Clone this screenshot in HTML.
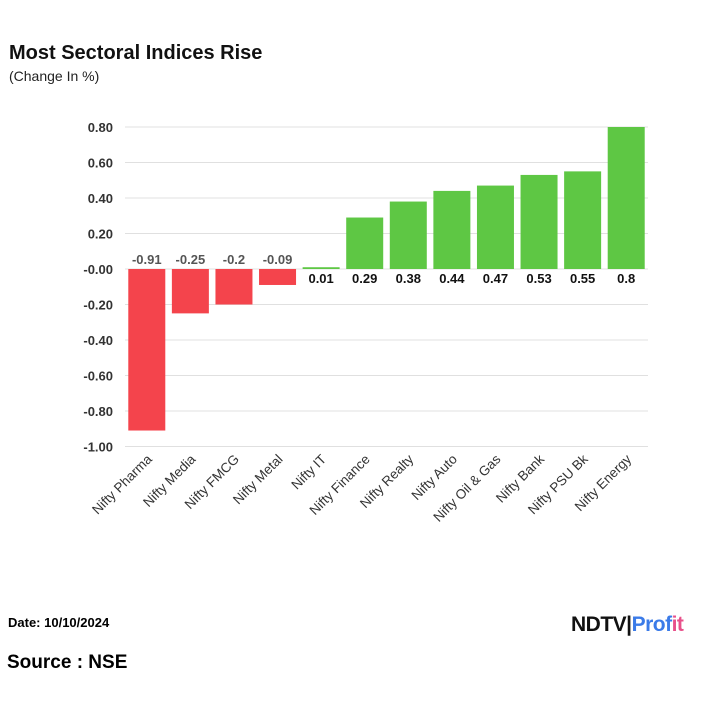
<!DOCTYPE html>
<html><head><meta charset="utf-8"><style>
body{margin:0;width:720px;height:720px;background:#fff;font-family:"Liberation Sans",sans-serif;overflow:hidden;position:relative}
.t{position:absolute;left:9px;top:42px;font-size:20px;font-weight:bold;color:#111}
.s{position:absolute;left:9px;top:68px;font-size:14px;color:#222}
.d{position:absolute;left:8px;top:615px;font-size:13px;font-weight:bold}
.src{position:absolute;left:7px;top:652px;font-size:19px;font-weight:bold}
</style></head><body>
<div class="t">Most Sectoral Indices Rise</div>
<div class="s">(Change In %)</div>
<svg id="c" width="720" height="720" style="position:absolute;left:0;top:0"></svg>
<div class="d">Date: 10/10/2024</div>
<div class="src">Source : NSE</div>
<div style="position:absolute;left:571px;top:613px;font-size:21px;font-weight:900;letter-spacing:-0.5px"><span style="color:#111">NDTV</span><span style="color:#111">|</span><span style="color:#3b7be8">Prof</span><span style="color:#e8508a">it</span></div>
<script>
const categories=["Nifty Pharma","Nifty Media","Nifty FMCG","Nifty Metal","Nifty IT","Nifty Finance","Nifty Realty","Nifty Auto","Nifty Oil & Gas","Nifty Bank","Nifty PSU Bk","Nifty Energy"];
const values=[-0.91,-0.25,-0.2,-0.09,0.01,0.29,0.38,0.44,0.47,0.53,0.55,0.8];
const labels=["-0.91","-0.25","-0.2","-0.09","0.01","0.29","0.38","0.44","0.47","0.53","0.55","0.8"];
const ticks=[0.8,0.6,0.4,0.2,0,-0.2,-0.4,-0.6,-0.8,-1.0];
const tickLabels=["0.80","0.60","0.40","0.20","-0.00","-0.20","-0.40","-0.60","-0.80","-1.00"];
const NS="http://www.w3.org/2000/svg",svg=document.getElementById('c');
const x0=125,x1=648,y=v=>269-v*177.5,step=(x1-x0)/categories.length,bw=37;
function mk(t,a,txt){const e=document.createElementNS(NS,t);for(const k in a)e.setAttribute(k,a[k]);if(txt!=null)e.textContent=txt;svg.appendChild(e);return e;}
ticks.forEach((t,i)=>{
 const g=mk('line',{x1:x0,x2:x1,y1:y(t),y2:y(t),stroke:'#e0e0e0'});
 
 
 const l=mk('text',{x:113,y:y(t)+5,'text-anchor':'end','font-size':13,'font-weight':'bold',fill:'#333'},tickLabels[i]);
 
 
});
categories.forEach((c,i)=>{
 const cx=x0+step*(i+0.5),v=values[i];
 const r=mk('rect',{x:cx-bw/2,y:Math.min(y(v),y(0)),width:bw,height:Math.max(1.5,Math.abs(y(v)-y(0))),fill:v<0?'#f4444c':'#5ec744'});
 
 
 const ly=v<0?y(0)-5:y(0)+14;
 const t=mk('text',{x:cx,y:ly,'text-anchor':'middle','font-size':13,'font-weight':'bold',fill:v<0?'#555':'#111'},labels[i]);
 
 
 const xl=mk('text',{x:cx+6,y:460,'text-anchor':'end','font-size':13.5,fill:'#333',transform:`rotate(-45 ${cx+6} 460)`},c);
 
 
});
</script>
</body></html>
